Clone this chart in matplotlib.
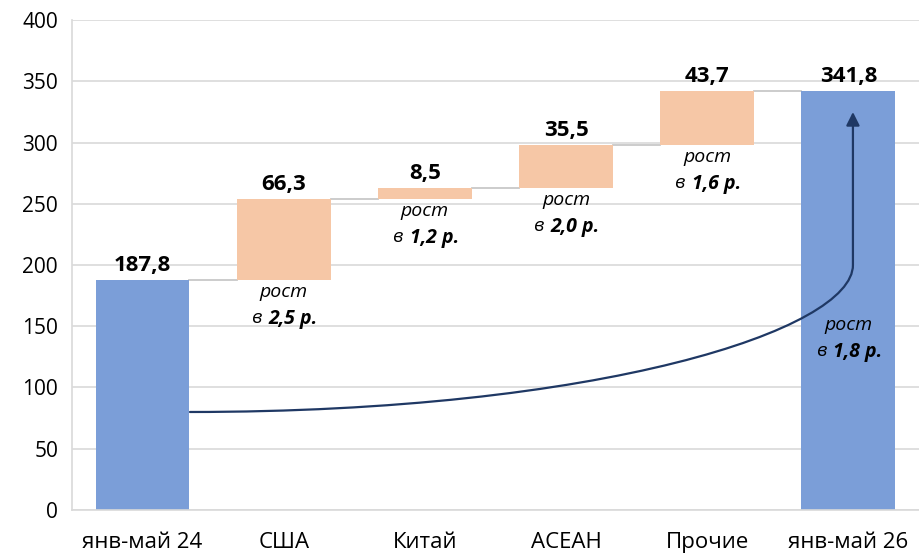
import numpy as np
import matplotlib.pyplot as plt
from matplotlib.path import Path
from matplotlib.patches import FancyArrowPatch

plt.rcParams['font.family'] = ['Open Sans', 'DejaVu Sans']

categories = ['янв-май 24', 'США', 'Китай', 'АСЕАН', 'Прочие', 'янв-май 26']
start_value = 187.8
increments = [66.3, 8.5, 35.5, 43.7]
end_value = 341.8
value_labels = ['187,8', '66,3', '8,5', '35,5', '43,7', '341,8']
growth = ['2,5 р.', '1,2 р.', '2,0 р.', '1,6 р.', '1,8 р.']

blue = '#7b9ed8'
peach = '#f6c7a6'
grid = '#d9d9d9'
navy = '#1f3864'

fig = plt.figure(figsize=(9.19, 5.53), dpi=100)
ax = fig.add_axes([0.0783, 0.0778, 0.9217, 0.886])

x = np.arange(len(categories))
w = 0.665

# waterfall geometry
bottoms = [0]
heights = [start_value]
level = start_value
for inc in increments:
    bottoms.append(level)
    heights.append(inc)
    level += inc
bottoms.append(0)
heights.append(end_value)
colors = [blue] + [peach] * len(increments) + [blue]

ax.bar(x, heights, bottom=bottoms, width=w, color=colors, zorder=2)

# connectors
tops = [b + h for b, h in zip(bottoms, heights)]
for i in range(len(categories) - 1):
    ax.plot([x[i] + w / 2, x[i + 1] - w / 2], [tops[i], tops[i]],
            color='#c8c8c8', lw=1.3, zorder=1)

# value labels
for i, lab in enumerate(value_labels):
    ax.annotate(lab, (x[i], tops[i]), xytext=(0, 3), textcoords='offset points',
                ha='center', va='bottom', fontsize=16, fontweight='bold')

# growth labels
def growth_label(xc, yc, txt):
    ax.annotate('рост', (xc, yc), xytext=(0, -2), textcoords='offset points',
                ha='center', va='top', fontsize=14, style='italic', zorder=4)
    ax.annotate('в', (xc, yc), xytext=(-16, -21), textcoords='offset points',
                ha='right', va='top', fontsize=14, style='italic', zorder=4)
    ax.annotate(txt, (xc, yc), xytext=(-11, -21), textcoords='offset points',
                ha='left', va='top', fontsize=14, style='italic',
                fontweight='bold', zorder=4)

for i in range(len(increments)):
    growth_label(x[i + 1], bottoms[i + 1], growth[i])
growth_label(x[5], 161, growth[4])

# curved arrow
verts = [(0.336, 80.0), (3.24, 80.0), (5.032, 146.9), (5.032, 200.0), (5.032, 324.9)]
codes = [Path.MOVETO, Path.CURVE4, Path.CURVE4, Path.CURVE4, Path.LINETO]
arrow = FancyArrowPatch(path=Path(verts, codes), arrowstyle='-|>,head_length=8,head_width=4',
                        color=navy, lw=1.6, zorder=3)
ax.add_patch(arrow)

ax.set_xlim(-0.5, 5.5)
ax.set_ylim(0, 400)
ax.set_yticks(np.arange(0, 401, 50))
ax.set_xticks(x)
ax.set_xticklabels(categories, fontsize=16)
ax.tick_params(axis='y', labelsize=15, length=0, pad=10)
ax.tick_params(axis='x', length=0, pad=16)
ax.yaxis.grid(True, color=grid, lw=1.2, zorder=0)
ax.set_axisbelow(True)
for s in ['top', 'right']:
    ax.spines[s].set_visible(False)
for s in ['left', 'bottom']:
    ax.spines[s].set_color(grid)
    ax.spines[s].set_linewidth(1.2)

fig.savefig('out.png', dpi=100)
